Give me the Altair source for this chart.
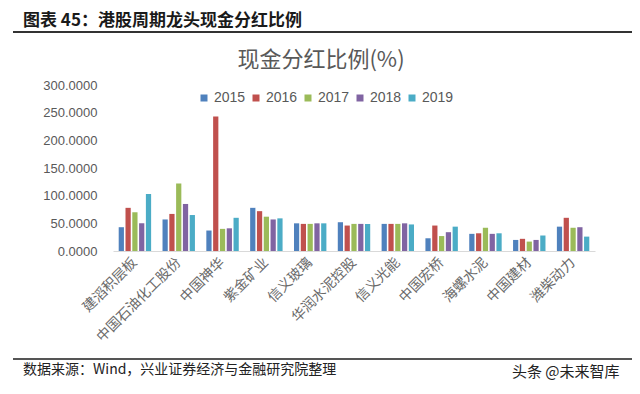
import altair as alt
import pandas as pd

HEADER = "图表 45：港股周期龙头现金分红比例"
CHART_TITLE = "现金分红比例(%)"
SOURCE = "数据来源：Wind，兴业证券经济与金融研究院整理"
WATERMARK = "头条 @未来智库"

categories = ["建滔积层板", "中国石油化工股份", "中国神华", "紫金矿业", "信义玻璃",
              "华润水泥控股", "信义光能", "中国宏桥", "海螺水泥", "中国建材", "潍柴动力"]
years = ["2015", "2016", "2017", "2018", "2019"]
v2015 = [43, 57, 37, 78, 50, 52, 49, 23, 31, 20, 44]
v2016 = [78, 67, 243, 72, 49, 46, 49, 46, 32, 22, 60]
v2017 = [70, 122, 40, 62, 49, 49, 49, 27, 42, 17, 42]
v2018 = [50, 85, 41, 57, 50, 49, 50, 34, 31, 20, 43]
v2019 = [103, 65, 60, 59, 50, 49, 48, 44, 32, 28, 26]
y_ticks = [0, 50, 100, 150, 200, 250, 300]
colors = ["#4F81BD", "#C0504D", "#9BBB59", "#8064A2", "#4BACC6"]

series = [v2015, v2016, v2017, v2018, v2019]
rows = []
for yr, vals in zip(years, series):
    for c, v in zip(categories, vals):
        rows.append({"company": c, "year": yr, "value": v})
df = pd.DataFrame(rows)

CJK = "Noto Sans CJK SC"
NUM = "Liberation Sans"

bars = alt.Chart(df).mark_bar().encode(
    x=alt.X("company:N", sort=categories,
            scale=alt.Scale(paddingInner=0.26, paddingOuter=0.13),
            axis=alt.Axis(title=None, labelAngle=-45, labelAlign="right", labelBaseline="middle",
                          labelFont=CJK, labelFontSize=14, labelColor="#6a6a6a",
                          labelPadding=9, ticks=False, tickSize=0, domain=True,
                          domainColor="#D9D9D9", domainWidth=1, grid=False, labelOverlap=False)),
    xOffset=alt.XOffset("year:N", sort=years, scale=alt.Scale(paddingInner=0.23, paddingOuter=0)),
    y=alt.Y("value:Q", scale=alt.Scale(domain=[0, 300], nice=False),
            axis=alt.Axis(title=None, values=y_ticks, format=".4f", domain=False, ticks=False,
                          tickSize=0, grid=False, labelFont=NUM, labelFontSize=13,
                          labelColor="#595959", labelPadding=16)),
    color=alt.Color("year:N", sort=years, scale=alt.Scale(domain=years, range=colors),
                    legend=alt.Legend(title=None, orient="none", direction="horizontal",
                                      legendX=84, legendY=6, symbolType="square", symbolSize=49,
                                      symbolStrokeWidth=0, labelFont=NUM, labelFontSize=14,
                                      labelColor="#595959", labelOffset=3, columnPadding=3,
                                      padding=0)),
)

one = pd.DataFrame({"t": [HEADER]})

header = alt.Chart(pd.DataFrame({"t": [HEADER]})).mark_text(
    font=CJK, fontSize=17, fontWeight="bold", color="#1a1a1a", align="left", baseline="middle"
).encode(x=alt.value(-90), y=alt.value(-64), text="t:N")

title = alt.Chart(pd.DataFrame({"t": [CHART_TITLE]})).mark_text(
    font=CJK, fontSize=22, color="#595959", align="center", baseline="middle"
).encode(x=alt.value(208), y=alt.value(-25), text="t:N")

source = alt.Chart(pd.DataFrame({"t": [SOURCE]})).mark_text(
    font=CJK, fontSize=14, color="#222222", align="left", baseline="middle"
).encode(x=alt.value(-90), y=alt.value(285), text="t:N")

wm = alt.Chart(pd.DataFrame({"t": [WATERMARK]})).mark_text(
    font=CJK, fontSize=15, color="#222222", align="left", baseline="middle"
).encode(x=alt.value(399), y=alt.value(287), text="t:N")

top_rule = alt.Chart(one).mark_rule(color="#333333", strokeWidth=2).encode(
    x=alt.value(-100), x2=alt.value(519), y=alt.value(-53))
bottom_rule = alt.Chart(one).mark_rule(color="#555555", strokeWidth=2).encode(
    x=alt.value(-100), x2=alt.value(519), y=alt.value(274))

chart = alt.layer(bars, header, title, source, wm, top_rule, bottom_rule).properties(
    width=482, height=166,
    autosize=alt.AutoSizeParams(type="none"),
    padding={"left": 113, "top": 85, "right": 45, "bottom": 143},
    background="white",
).configure_view(strokeWidth=0)

chart.save("out.html", embed_options={"renderer": "svg", "actions": False})
